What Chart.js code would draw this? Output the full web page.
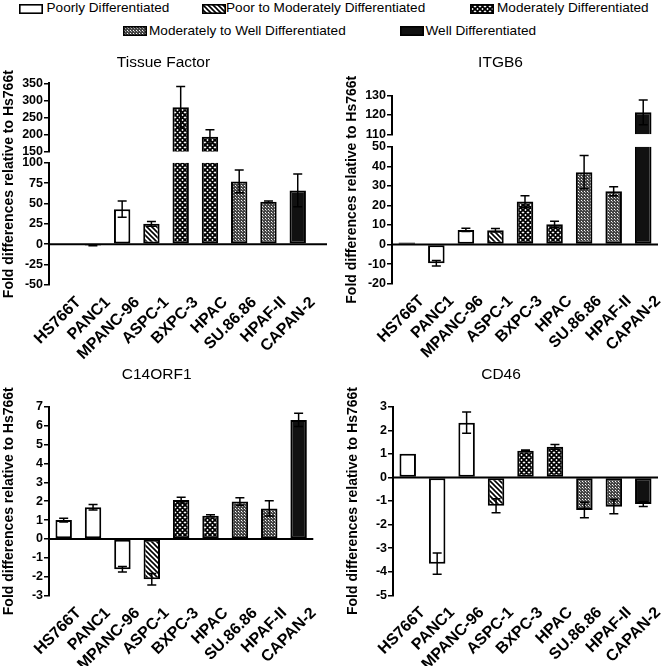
<!DOCTYPE html>
<html>
<head>
<meta charset="utf-8">
<script src="https://cdn.jsdelivr.net/npm/chart.js@4.4.1/dist/chart.umd.min.js"></script>
<style>
  html, body { margin: 0; padding: 0; background: #fff; overflow: hidden; }
  body { width: 663px; height: 666px; position: relative; font-family: 'Liberation Sans', Arial, sans-serif; }
  canvas { position: absolute; }
  .key-text { position: absolute; font-size: 13.6px; line-height: 14px; color: #000; white-space: nowrap; }
</style>
</head>
<body>
<script>
// --- Data ---
const cellLines = ['HS766T', 'PANC1', 'MPANC-96', 'ASPC-1', 'BXPC-3', 'HPAC', 'SU.86.86', 'HPAF-II', 'CAPAN-2'];
const grades = ['Poorly Differentiated', 'Poor to Moderately Differentiated', 'Moderately Differentiated',
                'Moderately to Well Differentiated', 'Well Differentiated'];
const lineGrade = [0, 0, 0, 1, 2, 2, 3, 3, 4];

const tfMean = [1, -1.5, 43, 25, 280, 194, 77, 52, 66];
const tfErr = [0, 0.5, 10, 3, 61, 20, 14, 1, 20];
const itgb6Mean = [1, -9.5, 7.5, 7.3, 22, 10.4, 37, 27.3, 121.4];
const itgb6Err = [0, 1.4, 0.8, 0.9, 2.9, 1.5, 8.5, 2.3, 6.4];
const c14Mean = [1.0, 1.68, -1.6, -2.13, 2.06, 1.23, 1.98, 1.62, 6.3];
const c14Err = [0.1, 0.15, 0.15, 0.3, 0.15, 0.05, 0.2, 0.4, 0.35];
const cd46Mean = [1.0, -3.66, 2.32, -1.2, 1.13, 1.3, -1.38, -1.24, -1.13];
const cd46Err = [0, 0.45, 0.45, 0.3, 0.03, 0.1, 0.33, 0.3, 0.1];

const tfTicksHigh = [150, 200, 250, 300, 350];
const tfTicksLow = [-50, -25, 0, 25, 50, 75, 100];
const itgb6TicksHigh = [110, 120, 130];
const itgb6TicksLow = [-20, -10, 0, 10, 20, 30, 40, 50];
const c14Ticks = [-3, -2, -1, 0, 1, 2, 3, 4, 5, 6, 7];
const cd46Ticks = [-5, -4, -3, -2, -1, 0, 1, 2, 3];

const yTitle = 'Fold differences relative to Hs766t';
const FONT = "'Liberation Sans', Arial, sans-serif";

Chart.defaults.font.family = FONT;
Chart.defaults.color = '#000';

// --- Fill patterns ---
function makeFill(kind) {
    if (kind === 0) return '#ffffff';
    if (kind === 4) return '#111111';
    const c = document.createElement('canvas');
    const g = c.getContext('2d');
    if (kind === 1) {
        c.width = c.height = 5;
        g.fillStyle = '#fff'; g.fillRect(0, 0, 5, 5);
        g.strokeStyle = '#000'; g.lineWidth = 1.6;
        g.beginPath();
        for (const o of [-5, 0, 5]) { g.moveTo(o - 1, -1); g.lineTo(o + 6, 6); }
        g.stroke();
    } else if (kind === 2) {
        c.width = c.height = 5;
        g.fillStyle = '#fff'; g.fillRect(0, 0, 5, 5);
        g.strokeStyle = '#000'; g.lineWidth = 1.9;
        g.beginPath();
        for (const o of [-5, 0, 5]) {
            g.moveTo(o - 1, -1); g.lineTo(o + 6, 6);
            g.moveTo(o + 6, -1); g.lineTo(o - 1, 6);
        }
        g.stroke();
    } else {
        c.width = c.height = 3;
        g.fillStyle = '#454545'; g.fillRect(0, 0, 3, 3);
        g.fillStyle = '#ffffff'; g.fillRect(1, 1, 1, 1);
        g.fillStyle = '#b0b0b0'; g.fillRect(2, 2, 1, 1);
    }
    return g.createPattern(c, 'repeat');
}
const fills = grades.map((_, k) => makeFill(k));

// --- Legend ---
const keySpots = [
    { sx: 19, sy: 3.5, tx: 46.5, ty: 1 },
    { sx: 201.5, sy: 3.5, tx: 226, ty: 1 },
    { sx: 469.5, sy: 3.5, tx: 497, ty: 1 },
    { sx: 123, sy: 26, tx: 149, ty: 24.4 },
    { sx: 400, sy: 26, tx: 425.5, ty: 24.4 }
];
grades.forEach((name, k) => {
    const spot = keySpots[k];
    const sw = document.createElement('canvas');
    sw.width = 24; sw.height = 10;
    sw.style.left = spot.sx + 'px'; sw.style.top = spot.sy + 'px';
    const g = sw.getContext('2d');
    g.fillStyle = fills[k]; g.fillRect(0, 0, 24, 10);
    g.strokeStyle = '#000'; g.lineWidth = 1.6; g.strokeRect(0.8, 0.8, 22.4, 8.4);
    document.body.appendChild(sw);
    const t = document.createElement('div');
    t.className = 'key-text';
    t.style.left = spot.tx + 'px'; t.style.top = spot.ty + 'px';
    t.textContent = name;
    document.body.appendChild(t);
});

// --- Error bars, clipping of each axis segment, zero line ---
function segmentPlugin(errs, zeroAxis) {
    return {
        id: 'segments',
        beforeDatasetDraw(chart, args) {
            const s = chart.scales[args.meta.yAxisID];
            const a = chart.chartArea;
            chart.ctx.save();
            chart.ctx.beginPath();
            chart.ctx.rect(a.left, s.top, a.right - a.left, s.bottom - s.top);
            chart.ctx.clip();
        },
        afterDatasetDraw(chart, args) {
            const ctx = chart.ctx;
            const s = chart.scales[args.meta.yAxisID];
            const pts = chart.data.datasets[args.index].data;
            ctx.strokeStyle = '#000';
            ctx.lineWidth = 1.5;
            args.meta.data.forEach((bar, i) => {
                const e = errs[i];
                if (!e) return;
                const y1 = s.getPixelForValue(pts[i].y + e);
                const y2 = s.getPixelForValue(pts[i].y - e);
                ctx.beginPath();
                ctx.moveTo(bar.x, y1); ctx.lineTo(bar.x, y2);
                ctx.moveTo(bar.x - 4.5, y1); ctx.lineTo(bar.x + 4.5, y1);
                ctx.moveTo(bar.x - 4.5, y2); ctx.lineTo(bar.x + 4.5, y2);
                ctx.stroke();
            });
            ctx.restore();
        },
        afterDatasetsDraw(chart) {
            const ctx = chart.ctx;
            const a = chart.chartArea;
            const y0 = chart.scales[zeroAxis].getPixelForValue(0);
            ctx.save();
            ctx.strokeStyle = '#000';
            ctx.lineWidth = 2;
            ctx.beginPath();
            ctx.moveTo(a.left, y0);
            ctx.lineTo(a.right, y0);
            ctx.stroke();
            ctx.restore();
        }
    };
}

const tickFont = { size: 12.5, weight: 'bold' };

function valueAxis(ticks, extra) {
    return Object.assign({
        type: 'linear',
        position: 'left',
        min: ticks[0],
        max: ticks[ticks.length - 1],
        afterBuildTicks: s => { s.ticks = ticks.map(v => ({ value: v })); },
        ticks: { autoSkip: false, font: tickFont, color: '#000', padding: 1 },
        grid: { drawOnChartArea: false, color: '#000', lineWidth: 1.5, tickLength: 5 },
        border: { display: true, color: '#000', width: 2 },
        afterFit: s => { s.width = 31; }
    }, extra);
}

function hiddenAxis(extra) {
    return Object.assign({
        type: 'linear', position: 'left', min: 0, max: 1,
        ticks: { display: false }, grid: { display: false }, border: { display: false }
    }, extra);
}

// --- Panels ---
const panels = [
    { title: 'Tissue Factor', mean: tfMean, err: tfErr, xMax: 9,
      left: 0, top: 40, width: 350, titleY: 63, plotRight: 327,
      segments: [{ ticks: tfTicksHigh, top: 83.3, bottom: 151.7 }, { ticks: tfTicksLow, top: 162.7, bottom: 285 }] },
    { title: 'ITGB6', mean: itgb6Mean, err: itgb6Err, xMax: 8.5,
      left: 343, top: 40, width: 349, titleY: 63, plotRight: 658,
      segments: [{ ticks: itgb6TicksHigh, top: 95.7, bottom: 134.3 }, { ticks: itgb6TicksLow, top: 146.7, bottom: 283.7 }] },
    { title: 'C14ORF1', mean: c14Mean, err: c14Err, xMax: 8.5,
      left: 0, top: 345, width: 350, titleY: 375, plotRight: 313.3,
      segments: [{ ticks: c14Ticks, top: 406.7, bottom: 595.7 }] },
    { title: 'CD46', mean: cd46Mean, err: cd46Err, xMax: 8.5,
      left: 344, top: 345, width: 382, titleY: 375, plotRight: 658,
      segments: [{ ticks: cd46Ticks, top: 406.7, bottom: 595.3 }] }
];

const CANVAS_H = 321;

panels.forEach(p => {
    const cv = document.createElement('canvas');
    cv.width = p.width; cv.height = CANVAS_H;
    cv.style.left = p.left + 'px'; cv.style.top = p.top + 'px';
    document.body.appendChild(cv);

    const segs = p.segments;
    const plotTop = segs[0].top - p.top;
    const plotBottom = segs[segs.length - 1].bottom - p.top;
    const titleLH = 15.5 * 1.2;
    const titlePadTop = p.titleY - p.top - titleLH / 2;

    const scales = {
        x: {
            type: 'linear', min: -0.5, max: p.xMax, offset: false,
            afterBuildTicks: s => { s.ticks = cellLines.map((_, i) => ({ value: i })); },
            ticks: {
                autoSkip: false, minRotation: 45, maxRotation: 45, padding: 0, labelOffset: 15,
                font: { size: 16, weight: 'bold' }, color: '#000',
                callback: v => cellLines[v]
            },
            grid: { display: false },
            border: { display: false },
            afterFit: s => { s.height = CANVAS_H - plotBottom; s.paddingLeft = 0; s.paddingRight = 0; }
        },
        yT: hiddenAxis({
            weight: 10,
            title: { display: true, text: yTitle, font: { size: 14, weight: 'bold' }, color: '#000', padding: { top: 0.6, bottom: 0 } },
            afterFit: s => { s.width = 18; }
        })
    };

    const datasets = [];
    segs.forEach((seg, k) => {
        const id = 'y' + k;
        scales[id] = valueAxis(seg.ticks, { stack: 'plot', stackWeight: seg.bottom - seg.top, weight: 5 - 2 * k });
        if (k < segs.length - 1) {
            scales['gap' + k] = hiddenAxis({
                stack: 'plot', stackWeight: segs[k + 1].top - seg.bottom, weight: 4 - 2 * k,
                afterFit: s => { s.width = 31; }
            });
        }
        datasets.push({
            data: p.mean.map((v, i) => ({ x: i, y: v })),
            yAxisID: id,
            backgroundColor: lineGrade.map(g => fills[g]),
            borderColor: '#000',
            borderWidth: 2,
            borderSkipped: false,
            barPercentage: 0.7,
            grouped: false
        });
    });

    new Chart(cv, {
        type: 'bar',
        data: { datasets },
        options: {
            responsive: false,
            animation: false,
            layout: { padding: { left: 0, top: 0, bottom: 0, right: p.left + p.width - p.plotRight } },
            plugins: {
                legend: { display: false },
                tooltip: { enabled: false },
                title: {
                    display: true, text: p.title, color: '#000',
                    font: { size: 15.5, weight: 'normal' },
                    padding: { top: titlePadTop, bottom: plotTop - titlePadTop - titleLH }
                }
            },
            scales
        },
        plugins: [segmentPlugin(p.err, 'y' + (segs.length - 1))]
    });
});
</script>
</body>
</html>
